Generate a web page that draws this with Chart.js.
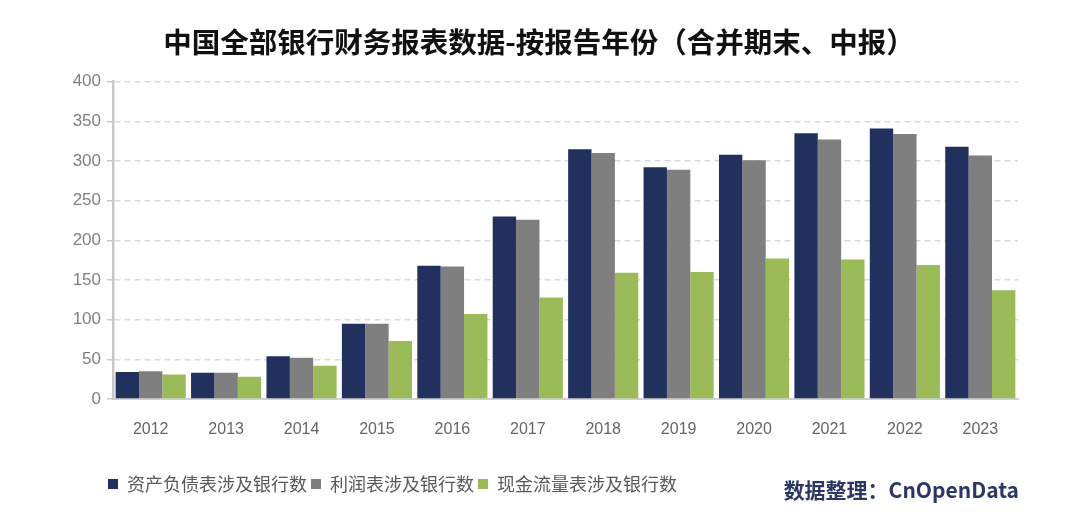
<!DOCTYPE html>
<html>
<head>
<meta charset="utf-8">
<script src="https://cdn.jsdelivr.net/npm/chart.js@4/dist/chart.umd.min.js"></script>
<style>
  body { margin: 0; background: #fff; }
  #wrap { position: relative; width: 1080px; height: 517px; }
  #source {
    position: absolute; right: 61px; top: 474px;
    font: bold 21px "Noto Sans CJK SC", "Liberation Sans", sans-serif;
    color: #2b3764;
  }
</style>
</head>
<body>
<div id="wrap">
  <canvas id="chart" width="1080" height="517"></canvas>
  <div id="source">数据整理：CnOpenData</div>
</div>
<script>
const years = ['2012', '2013', '2014', '2015', '2016', '2017', '2018', '2019', '2020', '2021', '2022', '2023'];
const balanceSheet = [34, 33, 54, 95, 168, 230, 315, 292, 308, 335, 341, 318];
const incomeStatement = [35, 33, 52, 95, 167, 226, 310, 289, 301, 327, 334, 307];
const cashFlow = [31, 28, 42, 73, 107, 128, 159, 160, 177, 176, 169, 137];
const yTicks = [0, 50, 100, 150, 200, 250, 300, 350, 400];

const font = '"Liberation Sans", "Noto Sans CJK SC", sans-serif';

// push the legend row right so it starts under the y axis labels
const legendShift = {
    id: 'legendShift',
    afterLayout(chart) {
        chart.legend.left += 44;
        chart.legend.right += 44;
    }
};

const ctx = document.getElementById('chart').getContext('2d');
new Chart(ctx, {
    type: 'bar',
    data: {
        labels: years,
        datasets: [
            { label: '资产负债表涉及银行数', data: balanceSheet, backgroundColor: '#22305e' },
            { label: '利润表涉及银行数', data: incomeStatement, backgroundColor: '#7f7f7f' },
            { label: '现金流量表涉及银行数', data: cashFlow, backgroundColor: '#9bbb59' }
        ]
    },
    plugins: [legendShift],
    options: {
        responsive: false,
        animation: false,
        layout: { padding: { left: 60, right: 62, top: 0, bottom: 14 } },
        datasets: {
            bar: { categoryPercentage: 0.93, barPercentage: 1.0, borderWidth: 0 }
        },
        plugins: {
            title: {
                display: true,
                text: '中国全部银行财务报表数据-按报告年份（合并期末、中报）',
                color: '#111',
                font: { family: '"Noto Sans CJK SC", sans-serif', size: 28.5, weight: 'bold' },
                padding: { top: 25.5, bottom: 22 }
            },
            legend: {
                position: 'bottom',
                align: 'start',
                labels: {
                    boxWidth: 10,
                    boxHeight: 10,
                    padding: 4,
                    color: '#595959',
                    font: { family: '"Noto Sans CJK SC", sans-serif', size: 18 }
                }
            },
            tooltip: { enabled: false }
        },
        scales: {
            x: {
                afterFit: function (scale) { scale.height = 72; },
                grid: { display: false, drawTicks: false },
                border: { display: true, color: '#d0d0d0', width: 2 },
                ticks: { color: '#666', padding: 21, font: { family: font, size: 16 } }
            },
            y: {
                min: 0,
                max: 400,
                afterFit: function (scale) { scale.width = 53; },
                afterBuildTicks: function (scale) { scale.ticks = yTicks.map(v => ({ value: v })); },
                grid: { color: '#d9d9d9', lineWidth: 1.5, tickLength: 6, tickColor: '#c8c8c8', tickBorderDash: [] },
                border: { display: true, color: '#c8c8c8', width: 2.5, dash: [6, 4] },
                ticks: { color: '#808080', padding: 6, font: { family: font, size: 17 } }
            }
        }
    }
});
</script>
</body>
</html>
